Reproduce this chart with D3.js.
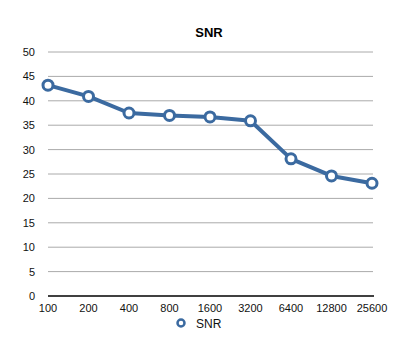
<!DOCTYPE html>
<html>
<head>
<meta charset="utf-8">
<script src="https://cdn.jsdelivr.net/npm/d3@7"></script>
<style>
  body { margin: 0; background: #fff; }
  text { font-family: "Liberation Sans", Arial, sans-serif; }
</style>
</head>
<body>
<div id="chart"></div>
<script>
// SNR per ISO
const isoLabels = ["100", "200", "400", "800", "1600", "3200", "6400", "12800", "25600"];
const snrValues = [43.2, 40.9, 37.5, 37.0, 36.7, 35.9, 28.1, 24.6, 23.1];
const yTicks = [0, 5, 10, 15, 20, 25, 30, 35, 40, 45, 50];

const width = 407, height = 350;
const margin = {top: 52, right: 34, bottom: 54, left: 48};
const color = "#3b6aa0";

const data = isoLabels.map((iso, i) => ({iso, value: snrValues[i]}));

const svg = d3.select("#chart").append("svg")
  .attr("width", width)
  .attr("height", height);

const x = d3.scalePoint()
  .domain(isoLabels)
  .range([margin.left, width - margin.right - 1])
  .padding(0);
const y = d3.scaleLinear()
  .domain([0, 50])
  .range([height - margin.bottom, margin.top]);

// gridlines
svg.append("g")
  .selectAll("line")
  .data(yTicks.filter(d => d > 0))
  .enter().append("line")
  .attr("x1", margin.left)
  .attr("x2", width - margin.right)
  .attr("y1", d => y(d))
  .attr("y2", d => y(d))
  .attr("stroke", "#aaaaaa")
  .attr("stroke-width", 1);

// y labels
svg.append("g")
  .selectAll("text")
  .data(yTicks)
  .enter().append("text")
  .attr("x", 35)
  .attr("y", d => y(d) + 4)
  .attr("text-anchor", "end")
  .attr("font-size", "11px")
  .attr("fill", "#111")
  .text(d => d);

// baseline
svg.append("line")
  .attr("x1", margin.left)
  .attr("x2", width - margin.right + 1)
  .attr("y1", y(0))
  .attr("y2", y(0))
  .attr("stroke", "#000")
  .attr("stroke-width", 1.5);

// x labels
svg.append("g")
  .selectAll("text")
  .data(isoLabels)
  .enter().append("text")
  .attr("x", d => x(d))
  .attr("y", y(0) + 16)
  .attr("text-anchor", "middle")
  .attr("font-size", "11px")
  .attr("fill", "#111")
  .text(d => d);

// line
const line = d3.line()
  .x(d => x(d.iso))
  .y(d => y(d.value));

svg.append("path")
  .datum(data)
  .attr("d", line)
  .attr("fill", "none")
  .attr("stroke", color)
  .attr("stroke-width", 4)
  .attr("stroke-linejoin", "round");

svg.append("g")
  .selectAll("circle")
  .data(data)
  .enter().append("circle")
  .attr("cx", d => x(d.iso))
  .attr("cy", d => y(d.value))
  .attr("r", 5)
  .attr("fill", "#fff")
  .attr("stroke", color)
  .attr("stroke-width", 3);

// title
svg.append("text")
  .attr("x", 209)
  .attr("y", 37)
  .attr("text-anchor", "middle")
  .attr("font-size", "13px")
  .attr("font-weight", "bold")
  .text("SNR");

// legend
svg.append("circle")
  .attr("cx", 181)
  .attr("cy", 323)
  .attr("r", 3.5)
  .attr("fill", "#fff")
  .attr("stroke", color)
  .attr("stroke-width", 2.5);
svg.append("text")
  .attr("x", 196)
  .attr("y", 328)
  .attr("font-size", "12px")
  .attr("fill", "#111")
  .text("SNR");
</script>
</body>
</html>
